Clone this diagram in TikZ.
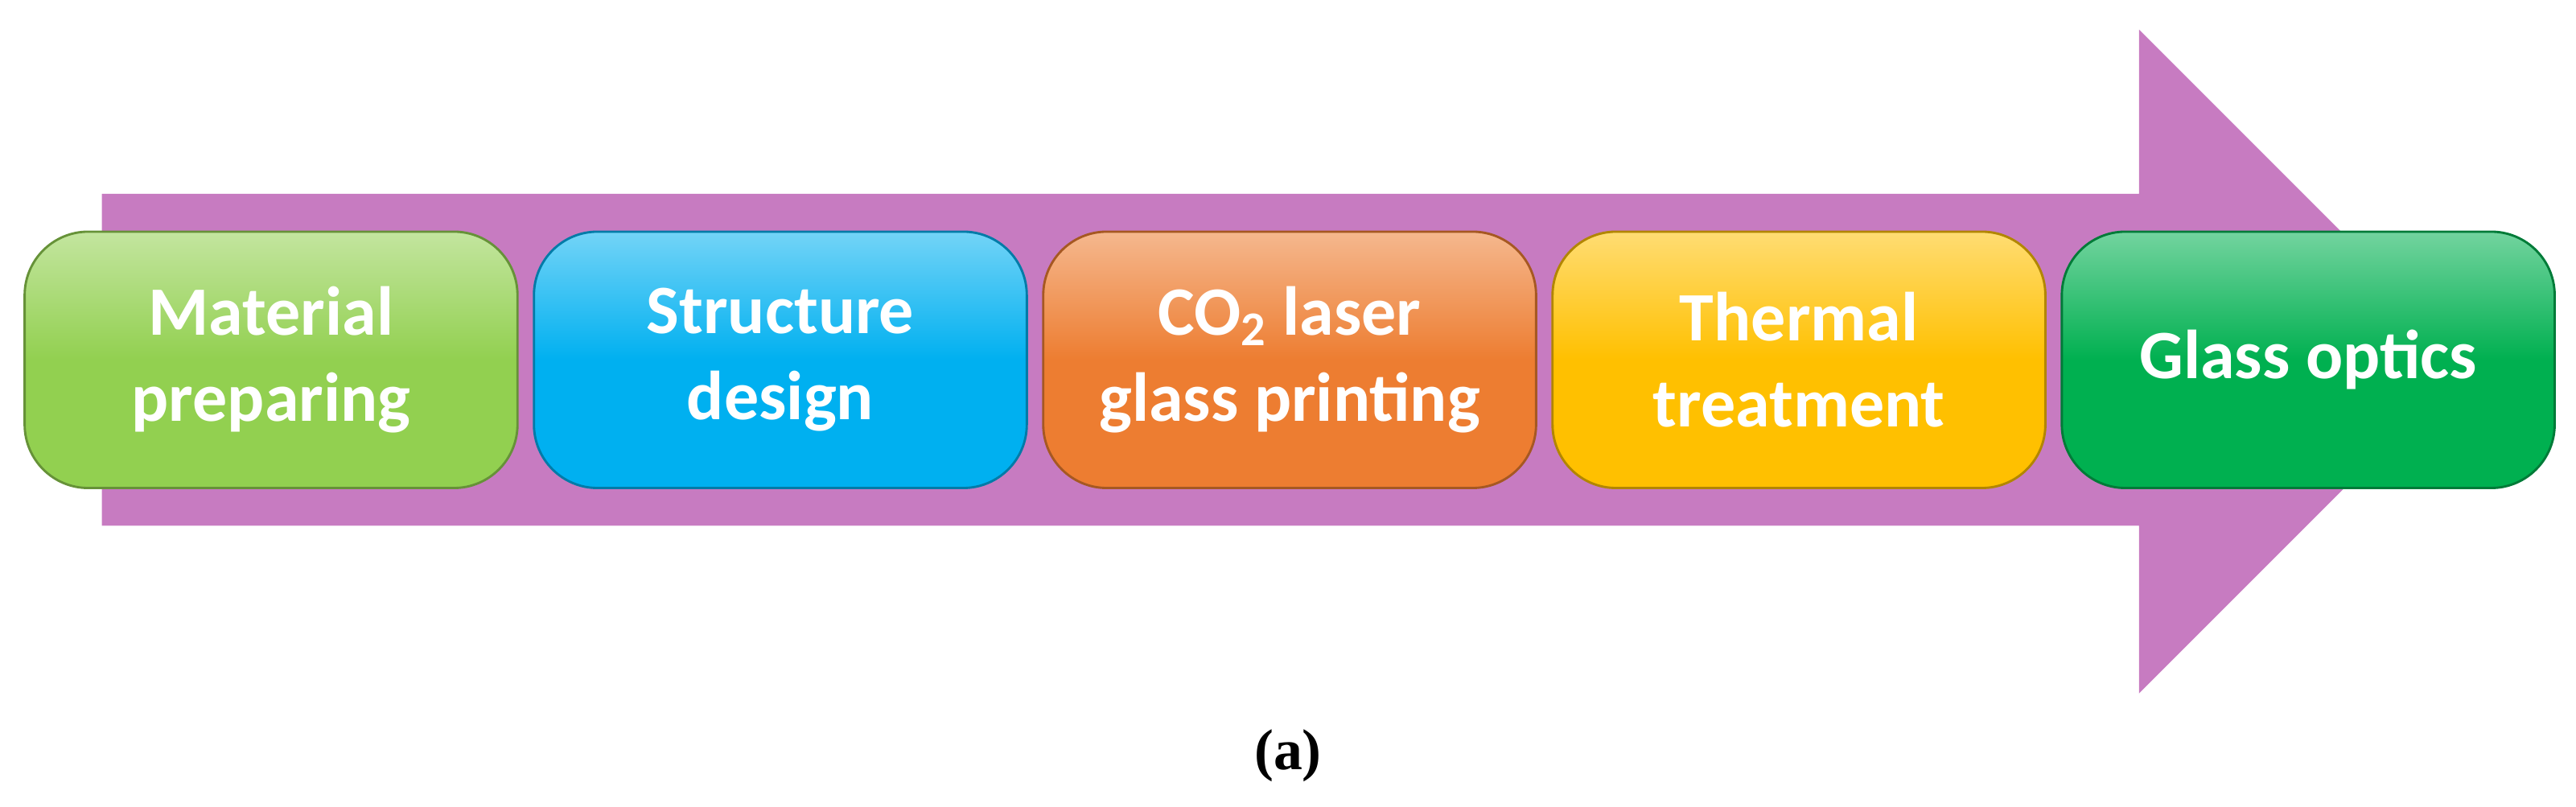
\documentclass[tikz,border=0pt]{standalone}
\usepackage{fontspec}
\setmainfont{Carlito}
\newfontfamily\capfont{Liberation Serif}
\begin{document}
\begin{tikzpicture}[x=0.02cm,y=-0.02cm,
  stepbox/.style={rounded corners=22,draw=#1!70!black,line width=0.8pt,minimum width=300*0.02cm,minimum height=156*0.02cm,
    top color=#1!55!white,bottom color=#1,middle color=#1,align=center,text=white,font=\fontsize{24}{30}\selectfont\bfseries,inner sep=0pt}]
\useasboundingbox (0,0) rectangle (1568,491);
\definecolor{arr}{HTML}{C77BC1}
\definecolor{cA}{HTML}{92D050}
\definecolor{cB}{HTML}{00B0F0}
\definecolor{cC}{HTML}{ED7D31}
\definecolor{cD}{HTML}{FFC000}
\definecolor{cE}{HTML}{00B050}
\fill[arr] (62,118) -- (1302,118) -- (1302,18) -- (1504,220) -- (1302,422) -- (1302,320) -- (62,320) -- cycle;
\node[stepbox=cA] (a) at (165,219) {Material\\preparing};
\node[stepbox=cB] (b) at (475,219) {Structure\\design};
\node[stepbox=cC] (c) at (785,219) {CO\textsubscript{2} laser\\glass printing};
\node[stepbox=cD] (d) at (1095,219) {Thermal\\treatment};
\node[stepbox=cE] (e) at (1405,219) {Glass optics};
\node[font=\fontsize{20}{24}\selectfont\capfont\bfseries] (lab) at (784,460) {(a)};
\end{tikzpicture}
\end{document}
